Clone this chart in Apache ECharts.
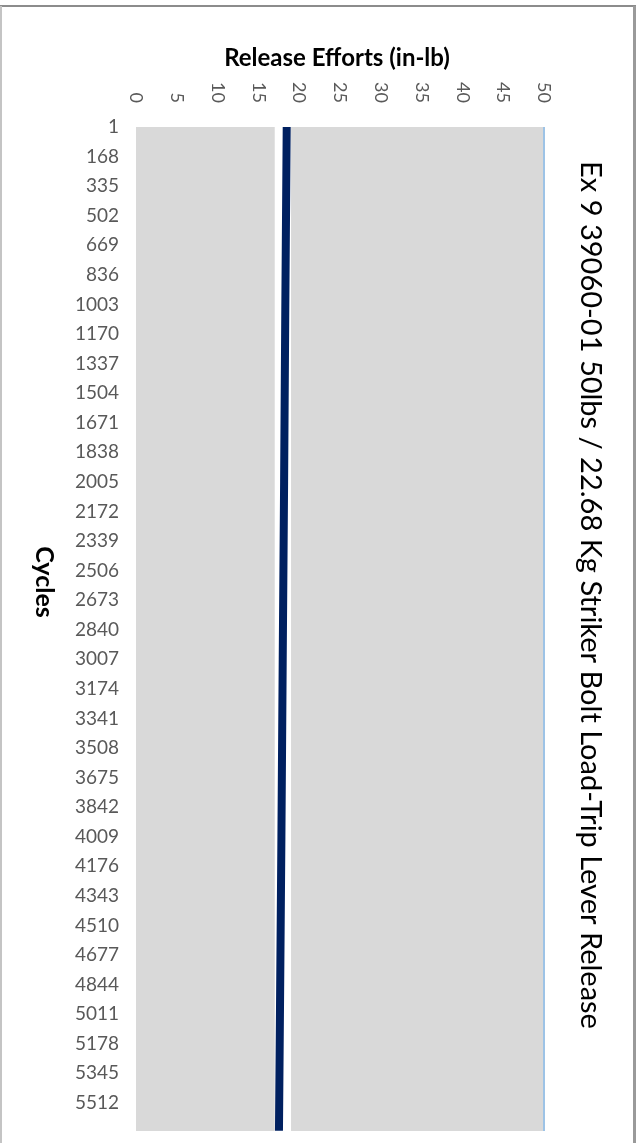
<!DOCTYPE html>
<html>
<head>
<meta charset="utf-8">
<script src="https://cdn.jsdelivr.net/npm/echarts@6/dist/echarts.min.js"></script>
<style>
html,body{margin:0;padding:0;background:#fff;}
#chart{width:639px;height:1143px;}
</style>
</head>
<body>
<div id="chart"></div>
<script>
// Data
const cycles = [1, 1003, 2005, 3007, 4009, 5011, 5670];
const releaseEfforts = [18.47, 18.3, 18.15, 17.98, 17.82, 17.64, 17.52];
const bandRange = [17, 19];
const cycleTickLabels = [1,168,335,502,669,836,1003,1170,1337,1504,1671,1838,2005,2172,2339,2506,2673,2840,3007,3174,3341,3508,3675,3842,4009,4176,4343,4510,4677,4844,5011,5178,5345,5512];
const effortTicks = [0,5,10,15,20,25,30,35,40,45,50];
const titleText = 'Ex 9 39060-01 50lbs / 22.68 Kg Striker Bolt Load-Trip Lever Release';

const chart = echarts.init(document.getElementById('chart'));
const FONT = 'Lato';
const cycleStep = 167;

chart.setOption({
  animation: false,
  backgroundColor: '#fff',
  grid: {
    left: 136, top: 127, width: 408, height: 1004,
    show: true, backgroundColor: '#d9d9d9', borderWidth: 0
  },
  xAxis: {
    type: 'value', position: 'top',
    min: effortTicks[0], max: effortTicks[effortTicks.length - 1], interval: 5,
    axisLine: {show: false}, axisTick: {show: false}, splitLine: {show: false},
    axisLabel: {
      rotate: -90, margin: 24, color: '#595959', fontFamily: FONT, fontSize: 18,
      padding: [0, 0, 0, 0],
      formatter: v => effortTicks.includes(v) ? String(v) : ''
    }
  },
  yAxis: {
    type: 'value', inverse: true, min: 0, max: 5670, interval: cycleStep,
    axisLine: {show: false}, axisTick: {show: false}, splitLine: {show: false},
    axisLabel: {
      margin: 17, color: '#595959', fontFamily: FONT, fontSize: 19, showMaxLabel: false,
      padding: [3, 0, 0, 0],
      formatter: v => {
        const i = Math.round(v / cycleStep);
        return (Math.abs(v - i * cycleStep) < 1e-6 && cycleTickLabels[i] !== undefined) ? String(cycleTickLabels[i]) : '';
      }
    }
  },
  series: [{
    type: 'line',
    data: cycles.map((c, i) => [releaseEfforts[i], c - 1]),
    symbol: 'none',
    lineStyle: {color: '#002060', width: 8},
    z: 5,
    markArea: {
      silent: true,
      itemStyle: {color: '#ffffff'},
      data: [[{xAxis: bandRange[0]}, {xAxis: bandRange[1]}]]
    },
    markLine: {
      silent: true, symbol: 'none', label: {show: false},
      lineStyle: {color: '#9dc3e6', width: 2, type: 'solid'},
      data: [{xAxis: effortTicks[effortTicks.length - 1]}]
    }
  }],
  graphic: [
    {type: 'line', shape: {x1: 0, y1: 6, x2: 636, y2: 6}, style: {stroke: '#8c8c8c', lineWidth: 2}},
    {type: 'line', shape: {x1: 1, y1: 6, x2: 1, y2: 1143}, style: {stroke: '#c4c4c4', lineWidth: 2}},
    {type: 'line', shape: {x1: 634.5, y1: 6, x2: 634.5, y2: 1143}, style: {stroke: '#9a9a9a', lineWidth: 3}},
    {type: 'text', x: 337, y: 58, style: {text: 'Release Efforts (in-lb)', fontFamily: FONT, fontWeight: 'bold', fontSize: 24, fill: '#000', align: 'center', verticalAlign: 'middle'}},
    {type: 'text', x: 44, y: 582, rotation: -Math.PI / 2, style: {text: 'Cycles', fontFamily: FONT, fontWeight: 'bold', fontSize: 25, fill: '#000', align: 'center', verticalAlign: 'middle'}},
    {type: 'text', x: 590, y: 595, rotation: -Math.PI / 2, style: {text: titleText, fontFamily: FONT, fontSize: 29, fill: '#000', align: 'center', verticalAlign: 'middle'}}
  ]
});
</script>
</body>
</html>
